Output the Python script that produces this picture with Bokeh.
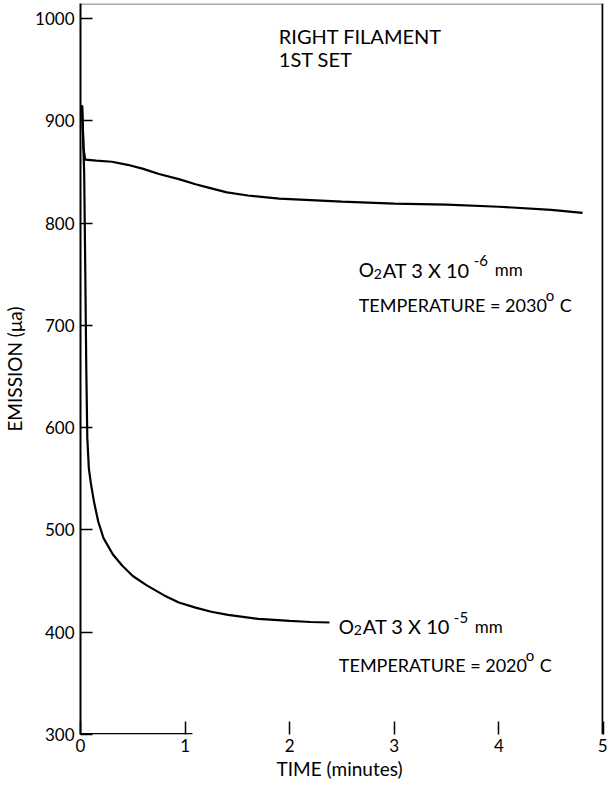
from bokeh.plotting import figure
from bokeh.models import Range1d, FixedTicker
from bokeh.core.properties import value
from bokeh.embed import file_html
from bokeh.resources import INLINE

# ---- data ----
upper_t = [0.015, 0.03, 0.045, 0.15, 0.3, 0.45, 0.6, 0.75, 0.94, 1.1, 1.25, 1.4, 1.6, 1.9,
           2.2, 2.5, 3.0, 3.5, 4.0, 4.5, 4.8]
upper_e = [915, 872, 862, 861, 860, 857, 853, 848, 843, 838, 834, 830, 827, 824,
           822.5, 821, 819, 818, 816, 813, 810]

lower_t = [0.015, 0.035, 0.045, 0.055, 0.065, 0.08, 0.1, 0.13, 0.17, 0.22, 0.31, 0.4, 0.5,
           0.63, 0.8, 0.94, 1.1, 1.25, 1.41, 1.7, 2.0, 2.2, 2.38]
lower_e = [915, 850, 760, 660, 590, 560, 545, 527, 508, 492, 476, 465, 455,
           446, 436, 429, 424, 420, 417, 413, 411, 410, 409.5]

x_ticks = [0, 1, 2, 3, 4, 5]
y_ticks = [300, 400, 500, 600, 700, 800, 900, 1000]

FONT = "Lato"
Y0, Y1 = 300, 1014.7
X0, X1 = 0, 5

p = figure(width=607, height=787, output_backend="svg", toolbar_location=None,
           x_range=Range1d(X0, X1), y_range=Range1d(Y0, Y1),
           min_border_left=75, min_border_right=4, min_border_top=3, min_border_bottom=53)
p.grid.visible = False
p.outline_line_color = None
p.background_fill_color = "white"
p.border_fill_color = "white"

# bottom axis (line drawn partially below, as in the scan)
xa = p.xaxis[0]
xa.ticker = FixedTicker(ticks=x_ticks)
xa.major_tick_in = 13
xa.major_tick_out = 0
xa.minor_tick_line_color = None
xa.major_tick_line_width = 1.5
xa.major_tick_line_color = "black"
xa.axis_line_color = None
xa.major_label_standoff = 4
xa.major_label_text_font = FONT
xa.major_label_text_font_size = "17px"
xa.major_label_text_color = "black"
xa.axis_label = "TIME  (minutes)"
xa.axis_label_text_font = FONT
xa.axis_label_text_font_size = "19px"
xa.axis_label_text_font_style = "normal"
xa.axis_label_text_color = "black"
xa.axis_label_standoff = 2

# left axis
ya = p.yaxis[0]
ya.ticker = FixedTicker(ticks=y_ticks)
ya.major_tick_in = 12
ya.major_tick_out = 0
ya.minor_tick_line_color = None
ya.major_tick_line_width = 1.5
ya.major_tick_line_color = "black"
ya.axis_line_width = 2
ya.axis_line_color = "black"
ya.major_label_standoff = 6
ya.major_label_text_font = FONT
ya.major_label_text_font_size = "17px"
ya.major_label_text_color = "black"
ya.axis_label = "EMISSION (μa)"
ya.axis_label_text_font = FONT
ya.axis_label_text_font_size = "19px"
ya.axis_label_text_font_style = "normal"
ya.axis_label_text_color = "black"
ya.axis_label_standoff = 6

# frame lines of the scan: thin top, heavy right, partial bottom
p.line([X0, X1], [Y1 - 0.5, Y1 - 0.5], line_color="#555555", line_width=1.2)
p.line([X1 - 0.009, X1 - 0.009], [Y0, Y1], line_color="black", line_width=2)
p.line([X0, 1.07], [Y0 + 0.8, Y0 + 0.8], line_color="black", line_width=1.6)

# curves
p.line(upper_t, upper_e, line_color="black", line_width=2.2)
p.line(lower_t, lower_e, line_color="black", line_width=2.2)

def txt(x, y, s, size, dx=0, dy=0):
    p.text([x], [y], text=[s], text_font=value(FONT), text_font_size=size,
           text_color="black", text_baseline="alphabetic", text_align="left",
           x_offset=dx, y_offset=dy)

txt(1.896, 983.4, "RIGHT FILAMENT", "20px")
txt(1.896, 960.0, "1ST SET", "20px")

def o2_label(x, y, exp):
    txt(x, y, "O", "19px")
    txt(x, y, "2", "14px", dx=15, dy=4)
    txt(x, y, "AT 3 X 10", "20px", dx=24)
    txt(x, y, exp, "15px", dx=115, dy=-9)
    txt(x, y, "mm", "17px", dx=136)

def temp_label(x, y, t):
    txt(x, y, "TEMPERATURE = " + t, "18px")
    txt(x, y, "o", "15px", dx=187, dy=-10)
    txt(x, y, "C", "18px", dx=201)

o2_label(2.66, 754.6, "-6")
temp_label(2.66, 720.4, "2030")

o2_label(2.47, 405.6, "-5")
temp_label(2.47, 368.4, "2020")

open("out.html", "w").write(file_html(p, INLINE))
